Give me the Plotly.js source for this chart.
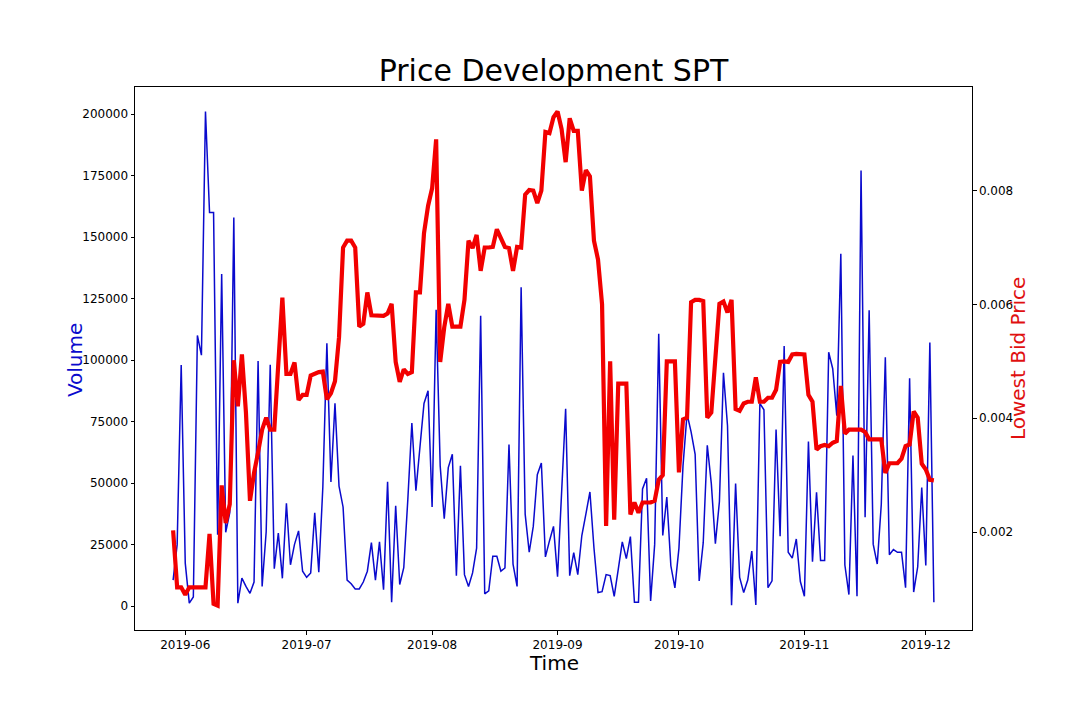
<!DOCTYPE html>
<html><head><meta charset="utf-8">
<script src="https://cdn.plot.ly/plotly-3.0.1.min.js"></script>
<style>html,body{margin:0;padding:0;background:#fff}#chart{width:1080px;height:720px}</style>
</head><body><div id="chart"></div>
<script>
// daily series, first day 2019-05-29
const startDate = [2019, 4, 29];
const volume = [
10600,25000,98000,17500,1200,3700,110000,102000,201000,160000,
160000,29000,135000,30000,38000,158000,1200,11400,8000,5200,
9800,99600,8000,30200,98100,15200,29700,11300,41800,16800,
25100,30600,14200,11700,13500,37900,13800,48400,106800,50500,
82400,48800,40300,10600,9100,7000,7000,9800,14200,25800,
10600,26100,6700,50500,1600,40800,8800,15600,43300,74400,
46900,65700,82400,87500,40300,120500,57000,35500,56300,61700,
12400,57000,12800,8000,13500,23600,118000,5000,6200,20300,
20300,14200,15500,65700,17100,8000,129600,37400,21900,32400,
53400,58200,20000,26500,32400,12000,45000,80200,12400,21700,
12800,28700,37400,46400,23600,5500,5900,12800,12400,4000,
14900,26100,19300,28300,1600,1600,47600,52000,2100,25100,
110700,28700,44300,16400,7400,23600,57000,78100,70800,61700,
10200,25800,65400,49800,25400,42500,94800,73300,400,49800,
11700,5500,10600,22400,450,82400,79800,7500,10300,71800,
28400,105700,21900,19500,27300,10000,4000,66900,18100,46300,
18500,18500,103200,96500,77400,143200,16700,4700,61200,4000,
177100,36100,120300,25200,17100,41400,101100,20900,23000,21900,
21900,7500,92600,5700,16000,48200,16500,107100,1600
];
const lowestBid = [
0.00203,0.00103,0.00103,0.00090,0.00103,0.00103,0.00103,0.00103,0.00103,0.00197,
0.00074,0.00071,0.00282,0.00216,0.00249,0.00502,0.00421,0.00512,0.00410,0.00255,
0.00304,0.00340,0.00380,0.00401,0.00380,0.00380,0.00493,0.00612,0.00478,0.00478,
0.00498,0.00432,0.00441,0.00441,0.00475,0.00478,0.00481,0.00482,0.00433,0.00444,
0.00465,0.00542,0.00700,0.00712,0.00712,0.00700,0.00561,0.00566,0.00621,0.00581,
0.00581,0.00581,0.00580,0.00584,0.00601,0.00499,0.00464,0.00486,0.00478,0.00481,
0.00621,0.00621,0.00725,0.00773,0.00804,0.00890,0.00499,0.00560,0.00601,0.00561,
0.00561,0.00561,0.00608,0.00712,0.00699,0.00722,0.00659,0.00700,0.00700,0.00701,
0.00732,0.00717,0.00701,0.00699,0.00659,0.00701,0.00700,0.00793,0.00801,0.00800,
0.00778,0.00800,0.00903,0.00901,0.00929,0.00939,0.00908,0.00850,0.00927,0.00905,
0.00905,0.00800,0.00836,0.00825,0.00712,0.00679,0.00600,0.00211,0.00500,0.00222,
0.00461,0.00461,0.00461,0.00231,0.00252,0.00234,0.00252,0.00252,0.00252,0.00255,
0.00292,0.00300,0.00500,0.00500,0.00500,0.00305,0.00398,0.00401,0.00604,0.00608,
0.00608,0.00606,0.00401,0.00410,0.00504,0.00601,0.00605,0.00586,0.00608,0.00416,
0.00413,0.00426,0.00429,0.00429,0.00472,0.00429,0.00429,0.00436,0.00436,0.00450,
0.00499,0.00500,0.00499,0.00512,0.00513,0.00513,0.00512,0.00441,0.00429,0.00345,
0.00351,0.00353,0.00351,0.00357,0.00360,0.00457,0.00373,0.00380,0.00380,0.00380,
0.00380,0.00376,0.00363,0.00363,0.00363,0.00363,0.00304,0.00321,0.00321,0.00321,
0.00329,0.00351,0.00354,0.00412,0.00401,0.00320,0.00310,0.00292,0.00291
];
const xTickVals = ['2019-06-01','2019-07-01','2019-08-01','2019-09-01','2019-10-01','2019-11-01','2019-12-01'];
const xTickText = ['2019-06','2019-07','2019-08','2019-09','2019-10','2019-11','2019-12'];
const volTicks = [0,25000,50000,75000,100000,125000,150000,175000,200000];
const volTickText = ['0','25000','50000','75000','100000','125000','150000','175000','200000'];
const priceTicks = [0.002,0.004,0.006,0.008];
const priceTickText = ['0.002','0.004','0.006','0.008'];

function dayList(start, n) {
  const out = [];
  for (let i = 0; i < n; i++) {
    out.push(new Date(Date.UTC(start[0], start[1], start[2] + i)).toISOString().slice(0, 10));
  }
  return out;
}
const dates = dayList(startDate, volume.length);

const FONT = 'DejaVu Sans, Liberation Sans, sans-serif';
const traces = [
  {x: dates, y: volume, type: 'scatter', mode: 'lines', name: 'Volume',
   line: {color: '#0a0acd', width: 1.5}, yaxis: 'y', hoverinfo: 'skip'},
  {x: dates, y: lowestBid, type: 'scatter', mode: 'lines', name: 'Lowest Bid Price',
   line: {color: '#f20000', width: 4.2}, yaxis: 'y2', hoverinfo: 'skip'}
];
const axisCommon = {
  showgrid: false, zeroline: false, showline: true, linecolor: '#000', linewidth: 1,
  ticks: 'outside', ticklen: 3.5, tickwidth: 1, tickcolor: '#000',
  tickfont: {family: FONT, size: 12, color: '#000'}
};
const layout = {
  width: 1080, height: 720,
  paper_bgcolor: '#fff', plot_bgcolor: '#fff',
  margin: {l: 135, r: 108, t: 87, b: 90},
  showlegend: false,
  font: {family: FONT, color: '#000'},
  title: {text: 'Price Development SPT', font: {family: FONT, size: 30, color: '#000'},
          x: 0.5, xref: 'paper', y: 1 - 70/720, yref: 'container', yanchor: 'middle'},
  xaxis: Object.assign({}, axisCommon, {
    type: 'date', range: ['2019-05-19 14:00', '2019-12-12 10:00'],
    tickvals: xTickVals, ticktext: xTickText, mirror: true
  }),
  yaxis: Object.assign({}, axisCommon, {
    range: [-9700, 211000], tickvals: volTicks, ticktext: volTickText
  }),
  yaxis2: Object.assign({}, axisCommon, {
    overlaying: 'y', side: 'right', anchor: 'x',
    range: [0.00028, 0.00982], tickvals: priceTicks, ticktext: priceTickText
  }),
  annotations: [
    {text: 'Time', xref: 'paper', yref: 'paper', x: 0.5, y: -0.061,
     xanchor: 'center', yanchor: 'middle', showarrow: false,
     font: {family: FONT, size: 20, color: '#000'}},
    {text: 'Volume', xref: 'paper', yref: 'paper', x: -0.0717, y: 0.497, textangle: -90,
     xanchor: 'center', yanchor: 'middle', showarrow: false,
     font: {family: FONT, size: 20, color: '#0a0acd'}},
    {text: 'Lowest Bid Price', xref: 'paper', yref: 'paper', x: 1.055, y: 0.499, textangle: -90,
     xanchor: 'center', yanchor: 'middle', showarrow: false,
     font: {family: FONT, size: 20, color: '#e01010'}}
  ]
};
Plotly.newPlot('chart', traces, layout, {displayModeBar: false, staticPlot: true});
</script></body></html>
